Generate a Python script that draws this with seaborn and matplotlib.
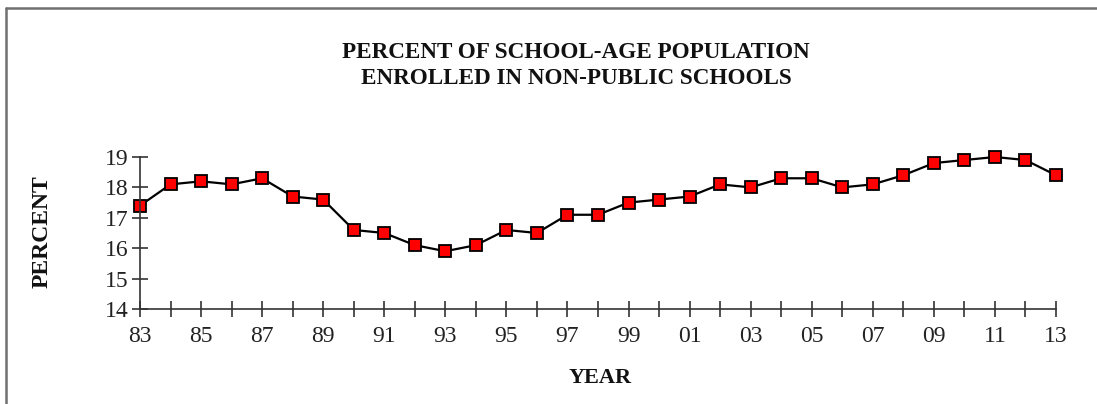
import matplotlib
matplotlib.use("Agg")
import matplotlib.pyplot as plt
import pandas as pd
import seaborn as sns
from matplotlib.lines import Line2D

# Datos
years = ["83", "84", "85", "86", "87", "88", "89", "90", "91", "92", "93",
         "94", "95", "96", "97", "98", "99", "00", "01", "02", "03", "04",
         "05", "06", "07", "08", "09", "10", "11", "12", "13"]
percent = [17.4, 18.1, 18.2, 18.1, 18.3, 17.7, 17.6, 16.6, 16.5, 16.1, 15.9,
           16.1, 16.6, 16.5, 17.1, 17.1, 17.5, 17.6, 17.7, 18.1, 18.0, 18.3,
           18.3, 18.0, 18.1, 18.4, 18.8, 18.9, 19.0, 18.9, 18.4]
y_ticks = [14, 15, 16, 17, 18, 19]

sns.set_theme(style="white")
plt.rcParams["font.family"] = ["Liberation Serif", "DejaVu Serif"]

df = pd.DataFrame({"pos": range(len(years)), "year": years, "percent": percent})

fig = plt.figure(figsize=(10.97, 4.04), dpi=100)
ax = fig.add_axes([140 / 1097, 1 - 309 / 404, (1056 - 140) / 1097, (309 - 157) / 404])

sns.lineplot(data=df, x="pos", y="percent", ax=ax, color="black", linewidth=1.6,
             marker="s", markersize=9, markerfacecolor="#ff0000",
             markeredgecolor="black", markeredgewidth=1.3, clip_on=False)

ax.set_xlim(0, len(years) - 1)
ax.set_ylim(14, 19)
ax.set_xticks(df["pos"])
ax.set_xticklabels([y if i % 2 == 0 else "" for i, y in enumerate(years)])
ax.set_yticks(y_ticks)
ax.tick_params(axis="both", direction="inout", length=11, width=1.2,
               color="#333333", labelsize=17, labelcolor="#222222",
               bottom=True, left=True)
ax.tick_params(axis="x", pad=7)
ax.tick_params(axis="y", pad=3)

for side in ["top", "right"]:
    ax.spines[side].set_visible(False)
for side in ["left", "bottom"]:
    ax.spines[side].set_color("#333333")
    ax.spines[side].set_linewidth(1.2)

ax.set_xlabel("")
ax.set_ylabel("")

fig.text(576 / 1097, 1 - 52 / 404, "PERCENT OF SCHOOL-AGE POPULATION",
         ha="center", va="center", fontsize=16.7, fontweight="bold", color="#111111")
fig.text(576 / 1097, 1 - 78 / 404, "ENROLLED IN NON-PUBLIC SCHOOLS",
         ha="center", va="center", fontsize=16.7, fontweight="bold", color="#111111")
fig.text(600 / 1097, 1 - 378 / 404, "YEAR", ha="center", va="center",
         fontsize=16, fontweight="bold", color="#111111")
fig.text(42 / 1097, 1 - 232 / 404, "PERCENT", ha="center", va="center",
         rotation=90, fontsize=17, fontweight="bold", color="#111111")

# Borde gris del marco (solo arriba e izquierda, como en el original)
fig.add_artist(Line2D([5.5 / 1097, 1.0], [1 - 8 / 404, 1 - 8 / 404],
                      color="#707070", linewidth=1.8, transform=fig.transFigure))
fig.add_artist(Line2D([5.5 / 1097, 5.5 / 1097], [0, 1 - 8 / 404],
                      color="#707070", linewidth=1.8, transform=fig.transFigure))

fig.savefig("out.png", dpi=100)
